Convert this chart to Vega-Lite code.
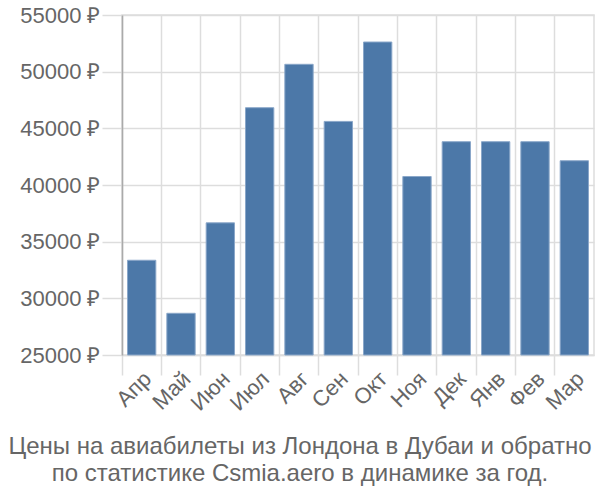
{
  "$schema": "https://vega.github.io/schema/vega-lite/v6.json",
  "autosize": {"type": "none"},
  "width": 472,
  "height": 340,
  "padding": {"left": 122, "top": 15, "right": 6, "bottom": 145},
  "background": "white",
  "title": {
    "text": ["Цены на авиабилеты из Лондона в Дубаи и обратно", "по статистике Csmia.aero в динамике за год."],
    "orient": "bottom",
    "anchor": "middle",
    "frame": "group",
    "dx": -58,
    "font": "Liberation Sans",
    "fontSize": 24,
    "fontWeight": "normal",
    "color": "#666666",
    "lineHeight": 27,
    "offset": 21
  },
  "config": {
    "view": {"stroke": "#dddddd", "strokeWidth": 1.5},
    "axis": {
      "labelFont": "Liberation Sans",
      "labelFontSize": 22,
      "labelColor": "#666666",
      "gridColor": "#dddddd",
      "gridWidth": 1.5,
      "tickColor": "#dddddd",
      "tickWidth": 1.5
    }
  },
  "data": {
    "values": [
      {"month": "Апр", "price": 33360},
      {"month": "Май", "price": 28680},
      {"month": "Июн", "price": 36660},
      {"month": "Июл", "price": 46820},
      {"month": "Авг", "price": 50650},
      {"month": "Сен", "price": 45610},
      {"month": "Окт", "price": 52615},
      {"month": "Ноя", "price": 40750},
      {"month": "Дек", "price": 43820},
      {"month": "Янв", "price": 43820},
      {"month": "Фев", "price": 43820},
      {"month": "Мар", "price": 42140}
    ]
  },
  "mark": {
    "type": "bar",
    "width": {"band": 0.72},
    "color": "#4c78a8",
    "stroke": "#8aa7c9",
    "strokeWidth": 1
  },
  "encoding": {
    "x": {
      "field": "month",
      "type": "nominal",
      "sort": null,
      "title": null,
      "scale": {"paddingInner": 0, "paddingOuter": 0},
      "axis": {
        "bandPosition": 0,
        "grid": true,
        "labelAngle": -45,
        "labelAlign": "right",
        "labelBaseline": "middle",
        "labelOffset": 6,
        "labelPadding": 0,
        "tickSize": 20,
        "domainColor": "#dddddd",
        "domainWidth": 1.5
      }
    },
    "y": {
      "field": "price",
      "type": "quantitative",
      "title": null,
      "scale": {"domain": [25000, 55000], "nice": false, "zero": false},
      "axis": {
        "values": [25000, 30000, 35000, 40000, 45000, 50000, 55000],
        "labelExpr": "datum.value + ' ₽'",
        "tickSize": 20,
        "labelPadding": 2,
        "domainColor": "#aaaaaa",
        "domainWidth": 1.5
      }
    },
    "y2": {"datum": 25000}
  }
}
